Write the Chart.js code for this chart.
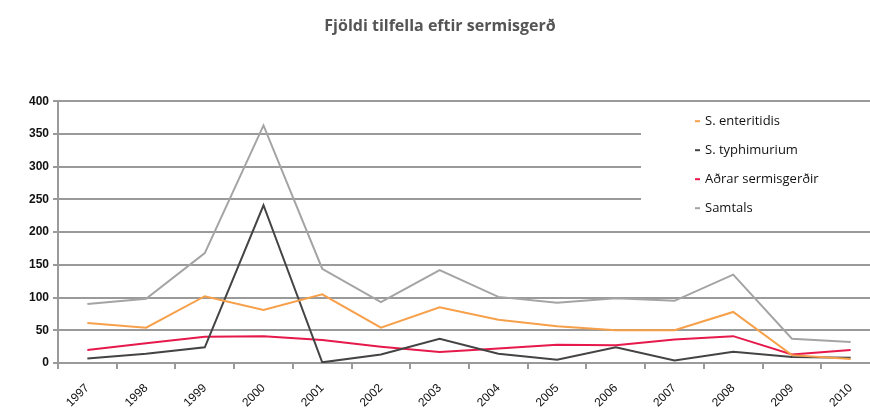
<!DOCTYPE html>
<html>
<head>
<meta charset="utf-8">
<script src="https://cdn.jsdelivr.net/npm/chart.js@4/dist/chart.umd.min.js"></script>
<style>
  html, body { margin: 0; padding: 0; background: #fff; overflow: hidden; }
  #wrap { width: 880px; height: 412px; }
</style>
</head>
<body>
<div id="wrap"><canvas id="c" width="880" height="412"></canvas></div>
<script>
// gögn lesin af myndinni
const ar = ["1997","1998","1999","2000","2001","2002","2003","2004","2005","2006","2007","2008","2009","2010"];
const enteritidis = [61, 54, 102, 81, 105, 54, 85, 66, 56, 50, 50, 78, 12, 6];
const typhimurium = [7, 14, 24, 241, 1, 13, 37, 14, 5, 24, 4, 17, 9, 8];
const adrar       = [20, 30, 40, 41, 35, 25, 17, 22, 28, 27, 36, 41, 13, 20];
const samtals     = [90, 98, 168, 363, 144, 93, 142, 101, 92, 99, 95, 135, 37, 32];
const yTicks = [0, 50, 100, 150, 200, 250, 300, 350, 400];

const GRID = "#9a9a9a";

const serie = (label, data, color) => ({
  label, data,
  borderColor: color,
  backgroundColor: color,
  borderWidth: 2,
  pointRadius: 0,
  tension: 0
});

// legend i hvitum kassa inni i teiknisvaedinu
const legendBox = {
  id: "legendBox",
  beforeDatasetsDraw(chart) {
    const { ctx, chartArea } = chart;
    const x0 = chartArea.left + 583, y0 = chartArea.top + 8;
    ctx.save();
    ctx.fillStyle = "#fff";
    ctx.fillRect(x0, y0, chartArea.right - x0, 117);
    ctx.font = "13px 'Open Sans'";
    ctx.textBaseline = "middle";
    chart.data.datasets.forEach((ds, i) => {
      const y = y0 + 12 + i * 29;
      ctx.fillStyle = ds.borderColor;
      ctx.fillRect(x0 + 54, y - 1, 5, 2);
      ctx.fillStyle = "#111";
      ctx.fillText(ds.label, x0 + 64, y);
    });
    ctx.restore();
  }
};

new Chart(document.getElementById("c"), {
  type: "line",
  data: {
    labels: ar,
    datasets: [
      serie("S. enteritidis", enteritidis, "#f7a04a"),
      serie("S. typhimurium", typhimurium, "#444444"),
      serie("Aðrar sermisgerðir", adrar, "#e6194b"),
      serie("Samtals", samtals, "#a4a4a4")
    ]
  },
  options: {
    responsive: false,
    animation: false,
    layout: { padding: 0 },
    plugins: {
      legend: { display: false },
      tooltip: { enabled: false },
      title: {
        display: true,
        text: "Fjöldi tilfella eftir sermisgerð",
        color: "#555",
        font: { family: "'Open Sans'", size: 16, weight: "bold" },
        padding: { top: 17, bottom: 65 },
        align: "center"
      }
    },
    scales: {
      x: {
        offset: true,
        grid: { offset: true, drawOnChartArea: false, drawTicks: true, tickLength: 6, color: GRID, lineWidth: 2 },
        border: { color: GRID, width: 2 },
        ticks: {
          minRotation: 45, maxRotation: 45,
          color: "#111",
          font: { family: "'Liberation Sans'", size: 12 },
          padding: 12
        },
        afterFit(s) { s.height = 49; }
      },
      y: {
        min: 0, max: 400,
        afterBuildTicks(s) { s.ticks = yTicks.map(v => ({ value: v })); },
        grid: { color: GRID, lineWidth: 2, tickLength: 5 },
        border: { color: GRID, width: 2 },
        ticks: {
          color: "#111",
          font: { family: "'Liberation Sans'", size: 12, weight: "bold" },
          padding: 4
        },
        afterFit(s) { s.width = 58; }
      }
    }
  },
  plugins: [legendBox]
});
</script>
</body>
</html>
